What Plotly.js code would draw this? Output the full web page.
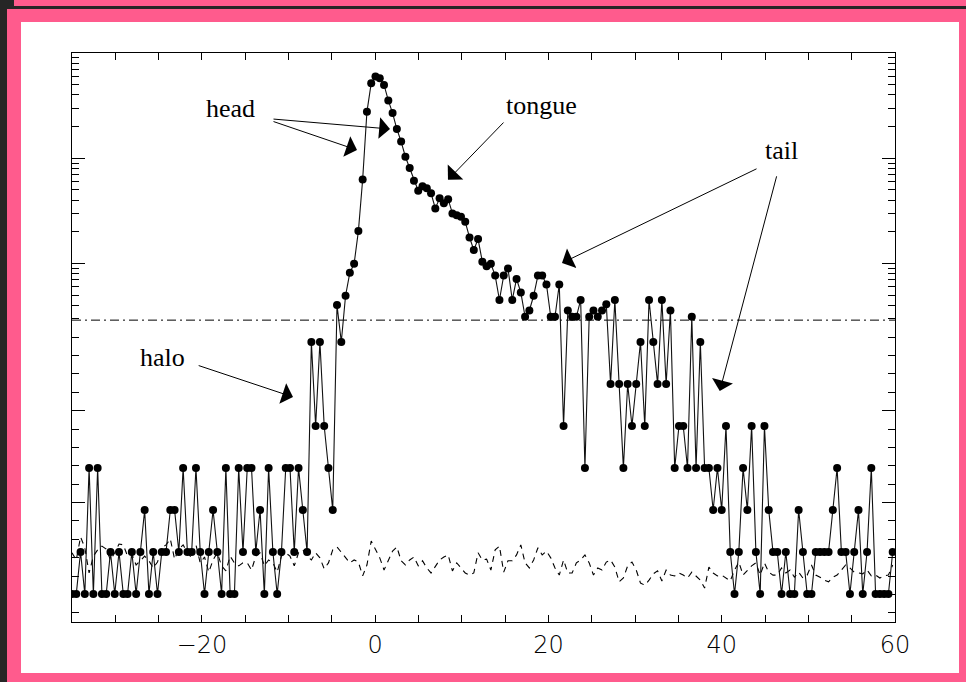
<!DOCTYPE html>
<html>
<head>
<meta charset="utf-8">
<script src="https://cdn.plot.ly/plotly-3.0.1.min.js"></script>
<style>
  html, body { margin: 0; padding: 0; width: 966px; height: 682px; overflow: hidden; background: #262626; }
  #topband { position: absolute; left: 14px; top: 0; width: 952px; height: 6px; background: #ff5b8d; }
  #frame { position: absolute; left: 7px; top: 9px; width: 959px; height: 673px; background: #ff5b8d; }
  #chart { position: absolute; left: 21px; top: 22px; width: 938px; height: 651px; background: #fff; }
</style>
</head>
<body>
<div id="topband"></div>
<div id="frame"></div>
<div id="chart"></div>
<script>
// ---- data (x sampled on a uniform bin grid) ----
const xStart = -35;
const xStep = 0.4934;

// main series (filled dots), in plotted intensity units
const intensity = [
  0,0,1,0,3,0,3,0,0,1,
  0,1,0,0,1,0,1,2,0,1,
  0,1,1,2,2,1,3,1,1,3,
  1,0,1,2,1,0,3,0,0,3,
  1,3,3,1,2,0,3,1,0,1,
  3,3,1,3,2,1,6,4,6,4,
  3,2,6.88,6,7.10,7.65,7.86,8.64,9.87,11.48,
  12.16,12.32,12.28,12.12,11.75,11.45,11.07,10.77,10.41,10.14,
  9.84,9.60,9.71,9.66,9.54,9.18,9.42,9.30,9.40,9.06,
  9.02,8.98,8.86,8.49,8.19,8.45,7.91,7.80,7.86,7.58,
  7.00,7.58,7.75,7.00,7.50,7.18,6.60,6.75,7.10,7.58,
  7.58,7.37,6.60,6.60,7.37,4,6.75,6.60,6.60,7.00,
  3,6.60,6.75,6.60,6.75,6.90,5,7,5,3,
  5,4,5,6,4,7,6,5,7,5,
  6.75,3,4,4,3,6.60,3,6,3,3,
  2,3,2,4,1,0,1,3,2,4,
  1,0,4,2,1,1,0,1,0,0,
  2,1,0,0,1,1,1,1,2,3,
  1,1,0,1,2,0,1,3,0,0,
  0,0,1
];

// background series (dashed)
const background = [
  0.98,0.81,1.36,1.10,0.50,0.90,1.05,1.14,1.07,0.81,
  0.98,1.19,1.17,0.90,0.95,0.69,0.79,0.90,0.79,0.62,
  0.76,1.10,1.17,1.31,0.83,1.07,1.17,0.98,0.86,1.17,
  0.74,0.88,0.52,0.81,0.98,0.67,0.55,0.90,0.74,0.67,
  0.74,0.74,0.57,0.90,0.98,0.67,0.81,0.74,0.52,0.90,
  0.98,0.90,0.67,0.98,1.05,0.90,0.81,0.98,0.86,0.60,
  0.74,1.05,1.12,1.00,0.88,0.74,0.81,0.76,0.43,0.69,
  1.26,1.07,0.86,0.57,0.81,1.02,1.12,0.79,0.69,0.81,
  0.88,0.67,0.79,0.62,0.50,0.67,0.81,0.88,0.93,0.55,
  0.74,0.62,0.50,0.45,0.50,0.98,0.81,0.83,0.57,1.05,
  1.14,0.52,0.79,0.79,0.93,1.17,0.74,0.62,0.81,1.10,
  0.93,1.02,0.86,0.62,0.45,0.81,0.50,0.50,0.74,0.81,
  0.93,0.74,0.45,0.62,0.57,0.76,0.81,0.64,0.29,0.38,
  0.67,0.76,0.57,0.26,0.21,0.33,0.48,0.55,0.31,0.57,
  0.45,0.43,0.50,0.45,0.38,0.52,0.43,0.33,0.14,0.64,
  0.50,0.43,0.45,0.38,0.31,0.57,0.76,0.45,0.57,0.67,
  0.74,0.45,0.74,0.52,0.45,0.45,0.62,0.50,0.57,0.40,
  0.52,0.38,0.45,0.69,0.45,0.40,0.33,0.29,0.40,0.45,
  0.57,0.69,0.62,0.52,0.50,0.48,0.57,0.43,0.45,0.38,
  0.43,0.45,0.69
];

const thresholdLevel = 6.52;
const xTickLabels = [-20, 0, 20, 40, 60];

const labels = [
  { text: 'head',   x: -16.65, y: 11.57 },
  { text: 'tongue', x: 19.14,  y: 11.64 },
  { text: 'tail',   x: 46.95,  y: 10.57 },
  { text: 'halo',   x: -24.6,  y: 5.64 }
];
// arrows: tail (ax, ay) -> head (x, y)
const arrows = [
  { ax: -11.91, ay: 11.26, x: -2.10, y: 10.57 },
  { ax: -11.91, ay: 11.31, x: 1.71,  y: 11.07 },
  { ax: 14.98,  ay: 11.26, x: 8.40,  y: 9.86 },
  { ax: 44.19,  ay: 10.14, x: 21.56, y: 7.88 },
  { ax: 46.38,  ay: 9.98,  x: 39.77, y: 4.83 },
  { ax: -20.55, ay: 5.45,  x: -9.49, y: 4.69 }
];

// ---- axis tick geometry (hybrid log / linear axis, no labels) ----
const xRange = [-35, 60];
const yRange = [-0.667, 12.88];
const decades = [7.869, 10.374, 12.879];
const decadeSpan = 2.505;
const linTop = 6.118, linStep = 0.438;

const yMajor = decades.slice();
const yMinor = [];
for (let k = 3; k <= 9; k++) yMinor.push(decades[0] + decadeSpan * Math.log10(k / 10));
[0, 1].forEach(d => { for (let k = 2; k <= 9; k++) yMinor.push(decades[d] + decadeSpan * Math.log10(k)); });
for (let k = 0; k <= 15; k++) {
  const v = linTop - linStep * k;
  if (k === 4 || k === 9) yMajor.push(v); else yMinor.push(v);
}

const xs = intensity.map((_, i) => xStart + i * xStep);
const xb = background.map((_, i) => xStart + i * xStep);

const traces = [
  {
    x: [xRange[0], xRange[1]], y: [thresholdLevel, thresholdLevel],
    mode: 'lines', line: { color: '#000', width: 1, dash: '9px,4px,2px,4px' },
    hoverinfo: 'skip'
  },
  {
    x: xb, y: background, mode: 'lines',
    line: { color: '#000', width: 1.1, dash: '6px,5px' }
  },
  {
    x: xs, y: intensity, mode: 'lines+markers',
    line: { color: '#111', width: 1.1 },
    marker: { color: '#000', size: 8 }
  }
];

const annotations = labels.map(l => ({
  x: l.x, y: l.y, xref: 'x', yref: 'y', text: l.text, showarrow: false,
  font: { family: 'Liberation Serif, Times New Roman, serif', size: 26, color: '#000' }
})).concat(arrows.map(a => ({
  x: a.x, y: a.y, ax: a.ax, ay: a.ay, xref: 'x', yref: 'y', axref: 'x', ayref: 'y',
  text: '', showarrow: true, arrowhead: 1, arrowsize: 3.6, arrowwidth: 1, arrowcolor: '#000', standoff: 0
})));

const layout = {
  width: 938, height: 651,
  margin: { l: 51, r: 64, t: 31, b: 51 },
  paper_bgcolor: '#fff', plot_bgcolor: '#fff',
  showlegend: false,
  xaxis: {
    range: xRange, showgrid: false, zeroline: false,
    showline: true, linecolor: '#000', linewidth: 1, mirror: 'allticks',
    ticks: 'inside', ticklen: 7, tickwidth: 1, tickcolor: '#000',
    tickmode: 'array', tickvals: xTickLabels,
    minor: { tickmode: 'linear', tick0: 0, dtick: 5, ticks: 'inside', ticklen: 7, tickwidth: 1, tickcolor: '#000' },
    tickfont: { family: 'DejaVu Sans, sans-serif', size: 24, color: '#000', weight: 200 },
    ticklabelstandoff: 1
  },
  yaxis: {
    range: yRange, showgrid: false, zeroline: false,
    showline: true, linecolor: '#000', linewidth: 1, mirror: 'allticks',
    ticks: 'inside', ticklen: 13, tickwidth: 1, tickcolor: '#000',
    tickmode: 'array', tickvals: yMajor, showticklabels: false,
    minor: { tickmode: 'array', tickvals: yMinor, ticks: 'inside', ticklen: 7, tickwidth: 1, tickcolor: '#000' }
  },
  annotations: annotations
};

Plotly.newPlot('chart', traces, layout, { staticPlot: true, displayModeBar: false });
</script>
</body>
</html>
